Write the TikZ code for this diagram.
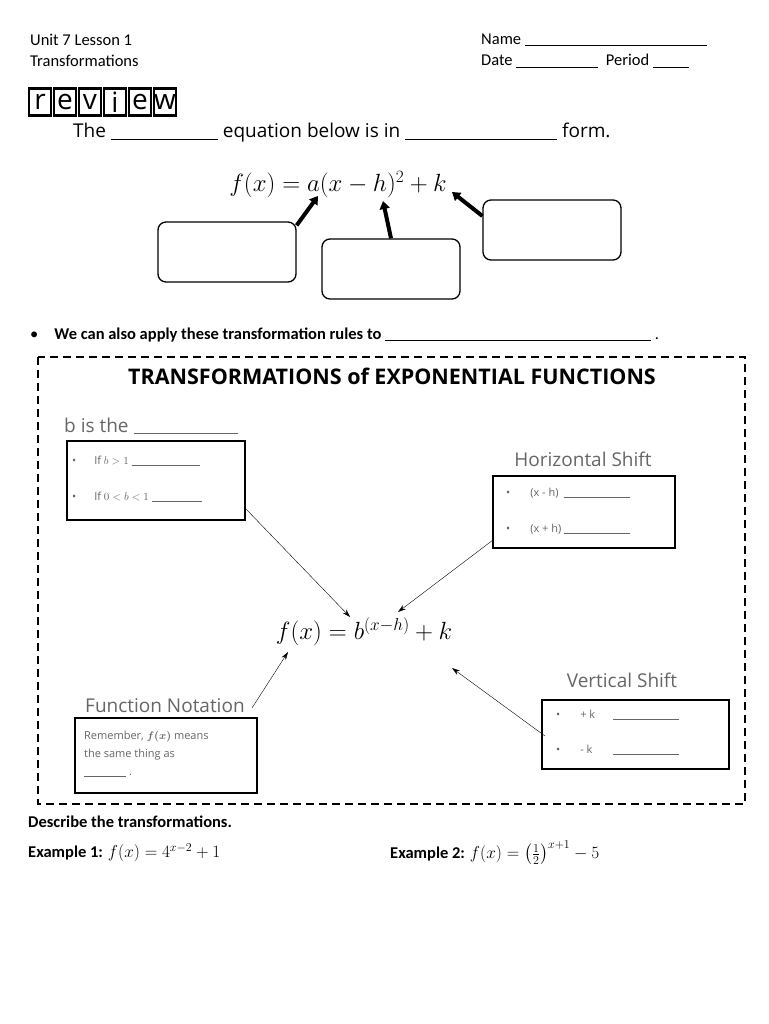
\documentclass[tikz,border=0pt]{standalone}
\usepackage{amsmath,bm}
\usepackage{fontspec}
\setmainfont{Carlito}
\newfontfamily\handfont{Open Sans}
\usetikzlibrary{positioning, arrows.meta}
\tikzset{
    textnode/.style = {draw=none, inner sep=0pt, anchor=west, font=\fontsize{16.5}{18}\selectfont},
    handnode/.style = {draw=none, inner sep=0pt, font=\handfont\fontsize{19}{21}\selectfont},
    smallhand/.style = {draw=none, inner sep=0pt, anchor=west, text=gray!80!black, font=\handfont\fontsize{11}{13}\selectfont},
    roundnode/.style = {draw, line width=1.3pt, rounded corners=0.8em, minimum width=138pt, minimum height=60pt},
    boxnode/.style = {draw, line width=2pt, inner sep=0pt},
    letternode/.style = {draw, line width=2.5pt, minimum width=22pt, minimum height=27pt, inner sep=0pt, font=\handfont\fontsize{28}{28}\selectfont},
    bigarrow/.style = {line width=4pt, -{Triangle[length=8pt,width=10pt]}},
    connect/.style = {black, thin, -{Stealth[length=8pt,width=5pt]}}
}
\newcommand{\blank}[1]{\rule[-1.5pt]{#1}{0.6pt}}
\begin{document}
\begin{tikzpicture}[x=1pt, y=-1pt]
    \useasboundingbox (0,0) rectangle (768,1024);
    \fill[white] (0,0) rectangle (768,1024);

    % header
    \node [name=unit, textnode] at (30,40) {Unit 7 Lesson 1};
    \node [name=trans, textnode] at (30,61) {Transformations};
    \node [name=name, textnode] at (481,40) {Name \blank{182pt}};
    \node [name=date, textnode] at (481,61) {Date \blank{82pt}\ \ Period \blank{36pt}};

    % review letters
    \foreach \l [count=\i] in {r,e,v,i,e,w}
        \node [name=rev\i, letternode] at (28+12+\i*25-25,102) {\l};

    \node [name=the, handnode, anchor=west] at (73,133) {The \blank{107pt}\ equation below is in \blank{152pt}\ form.};

    % vertex form
    \node [name=vform, draw=none, font=\fontsize{23}{25}\selectfont] at (338,185) {$f(x)=a(x-h)^2+k$};
    \node [name=boxa, roundnode] at (227,252) {};
    \node [name=boxh, roundnode] at (391,269) {};
    \node [name=boxk, roundnode] at (552,230) {};
    \draw [bigarrow] (boxa.north east) ++(0,4) -- (318,196);
    \draw [bigarrow] (boxh.north) -- (383,201);
    \draw [bigarrow] (boxk.west) ++(0,-14) -- (452,192);

    \node [name=apply, textnode] at (30,335) {\textbullet\hspace{16pt}\textbf{We can also apply these transformation rules to \blank{266pt}} .};

    % dashed frame
    \draw [line width=2.5pt, dash pattern=on 8pt off 5pt] (38,357) rectangle (745,804);
    \node [name=title, handnode, font=\handfont\bfseries\fontsize{21.5}{23}\selectfont] at (392,376) {TRANSFORMATIONS of EXPONENTIAL FUNCTIONS};

    \node [name=expf, draw=none, font=\fontsize{23}{25}\selectfont] at (364,632) {$f(x)=b^{(x-h)}+k$};

    % b box
    \node [name=blabel, handnode, anchor=west, text=gray!80!black] at (64,426) {b is the \blank{104pt}};
    \node [name=bbox, boxnode, minimum width=178pt, minimum height=79pt] at (156,480.5) {};
    \node [name=b1, smallhand] at (72,461) {\textbullet\hspace{18pt}If $b>1$ \blank{68pt}};
    \node [name=b2, smallhand] at (72,497) {\textbullet\hspace{18pt}If $0<b<1$ \blank{50pt}};

    % horizontal shift
    \node [name=hlabel, handnode, text=gray!80!black] at (583,459) {Horizontal Shift};
    \node [name=hbox, boxnode, minimum width=182pt, minimum height=72pt] at (584,512) {};
    \node [name=h1, smallhand] at (506,493) {\textbullet\hspace{20pt}(x - h)\ \ \blank{66pt}};
    \node [name=h2, smallhand] at (506,529) {\textbullet\hspace{20pt}(x + h)\ \blank{66pt}};

    % vertical shift
    \node [name=vlabel, handnode, text=gray!80!black] at (622,680) {Vertical Shift};
    \node [name=vbox, boxnode, minimum width=187pt, minimum height=69pt] at (635.5,734.5) {};
    \node [name=v1, smallhand] at (556,715) {\textbullet\hspace{20pt}+ k\hspace{18pt}\blank{66pt}};
    \node [name=v2, smallhand] at (556,750) {\textbullet\hspace{20pt}- k\hspace{20pt}\blank{66pt}};

    % function notation
    \node [name=flabel, handnode, anchor=west, text=gray!80!black] at (85,706) {Function Notation};
    \node [name=fbox, boxnode, minimum width=182pt, minimum height=75pt] at (166,755.5) {};
    \node [name=f1, smallhand, align=left, anchor=north west, font=\handfont\fontsize{11}{18}\selectfont] at (84,731) {Remember, $\bm{f(x)}$ means\\the same thing as\\\blank{42pt} .};

    % connectors
    \coordinate (bend) at (245,508);
    \coordinate (hend) at (493,540);
    \coordinate (vend) at (545,736);
    \coordinate (fend) at (252,708);
    \draw [connect] (bend) -- (350,617);
    \draw [connect] (hend) -- (398,612);
    \draw [connect] (vend) -- (452,668);
    \draw [connect] (fend) -- (288,652);

    % examples
    \node [name=desc, textnode] at (28,822) {\textbf{Describe the transformations.}};
    \node [name=ex1, textnode] at (28,853) {\textbf{Example 1:} $f(x)=4^{x-2}+1$};
    \node [name=ex2, textnode] at (390,853) {\textbf{Example 2:} $f(x)=\left(\frac{1}{2}\right)^{x+1}-5$};
\end{tikzpicture}
\end{document}
